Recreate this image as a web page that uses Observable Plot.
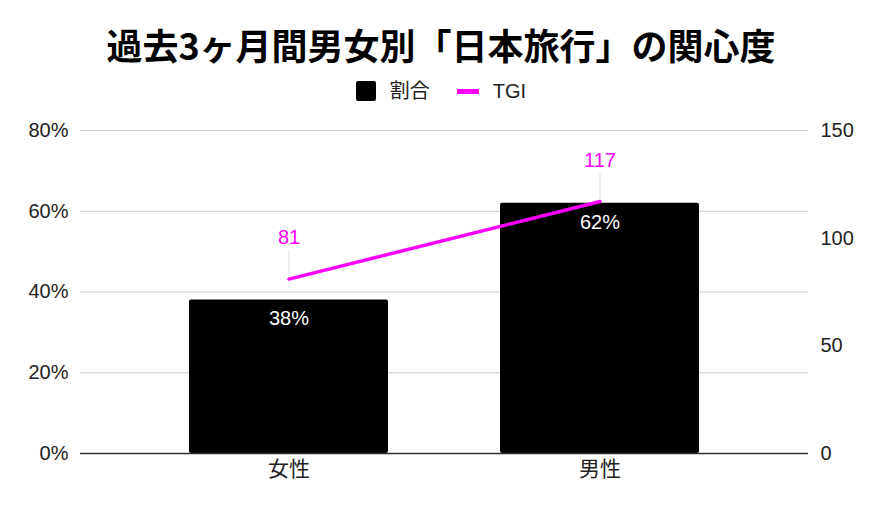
<!DOCTYPE html>
<html><head><meta charset="utf-8">
<script src="https://cdn.jsdelivr.net/npm/d3@7"></script>
<script src="https://cdn.jsdelivr.net/npm/@observablehq/plot@0.6"></script>
<style>
body{margin:0;background:#fff;font-family:"Liberation Sans","Noto Sans CJK JP",sans-serif;}
#header{position:relative;width:882px;height:110px;}
#title{position:absolute;top:24px;left:0;width:882px;text-align:center;font-size:36px;line-height:40px;font-weight:700;font-family:"Noto Sans CJK JP",sans-serif;color:#000;}
#legend{position:absolute;top:81px;left:0;width:882px;display:flex;justify-content:center;align-items:center;font-size:20px;line-height:20px;color:#222;}
.sw{width:20px;height:20px;background:#000;border-radius:2px;margin-right:14px;}
.ln{width:22px;height:5px;background:#ff00ff;margin-left:27px;margin-right:14px;}
</style>
</head><body>
<div id="header">
  <div id="title">過去3ヶ月間男女別「日本旅行」の関心度</div>
  <div id="legend"><div class="sw"></div><span>割合</span><div class="ln"></div><span>TGI</span></div>
</div>
<div id="chart"></div>
<script>
const categories = ["女性", "男性"];
const shares = [0.38, 0.62];
const tgiValues = [81, 117];
const leftTicks = [0, 0.2, 0.4, 0.6, 0.8];
const rightTicks = [0, 50, 100, 150];
const leftMax = 0.8;
const rightMax = 150;

const data = categories.map((c, i) => ({cat: c, share: shares[i], tgi: tgiValues[i]}));
const tgiY = d => d.tgi / rightMax * leftMax;

const chart = Plot.plot({
  width: 882,
  height: 402,
  marginLeft: 80,
  marginRight: 74,
  marginTop: 20,
  marginBottom: 59,
  style: {fontFamily: "'Liberation Sans', 'Noto Sans CJK JP', sans-serif", background: "#fff"},
  x: {type: "band", domain: categories, paddingInner: 0.36, paddingOuter: 0.35},
  y: {domain: [0, leftMax]},
  marks: [
    Plot.gridY(leftTicks, {stroke: "#cccccc", strokeOpacity: 1, strokeWidth: 1}),
    Plot.barY(data, {x: "cat", y: "share", fill: "#000", rx: 2}),
    Plot.ruleY([0], {stroke: "#333", strokeWidth: 1.5}),
    Plot.text(data, {x: "cat", y: "share", text: d => Math.round(d.share * 100) + "%", fill: "#fff", dy: 19, fontSize: 20}),
    Plot.ruleX(data, {x: "cat", y1: tgiY, y2: tgiY, stroke: "#dddddd", strokeWidth: 1, insetBottom: 28}),
    Plot.line(data, {x: "cat", y: tgiY, stroke: "#ff00ff", strokeWidth: 3.5}),
    Plot.text(data, {x: "cat", y: tgiY, text: d => String(d.tgi), fill: "#ff00ff", dy: -41, fontSize: 20}),
    Plot.axisY(leftTicks, {anchor: "left", tickSize: 0, tickPadding: 12, fontSize: 20, tickFormat: d => Math.round(d * 100) + "%", label: null, fill: "#222"}),
    Plot.axisY(rightTicks.map(t => t / rightMax * leftMax), {anchor: "right", tickSize: 0, tickPadding: 12, fontSize: 20, tickFormat: d => String(Math.round(d / leftMax * rightMax)), label: null, fill: "#222"}),
    Plot.axisX({tickSize: 0, tickPadding: 8, fontSize: 21, label: null, fill: "#222"})
  ]
});
document.getElementById("chart").appendChild(chart);
</script>
</body></html>
